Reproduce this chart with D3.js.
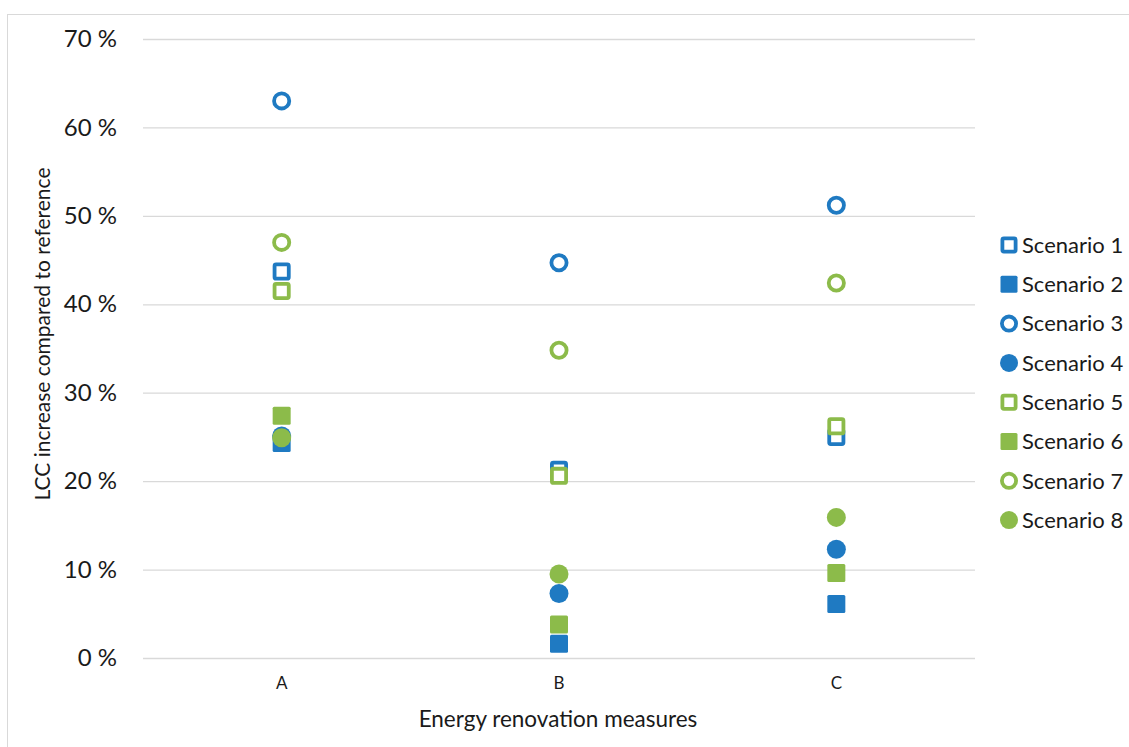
<!DOCTYPE html>
<html>
<head>
<meta charset="utf-8">
<script src="https://cdn.jsdelivr.net/npm/d3@7"></script>
<style>
  html, body { margin: 0; padding: 0; background: #fff; }
  svg { display: block; font-family: Lato, "Open Sans", sans-serif; }
</style>
</head>
<body>
<svg id="chart" width="1129" height="747"></svg>
<script>
// Energy renovation measures on the x axis
const categories = ["A", "B", "C"];

// LCC increase (%) per scenario, in category order A, B, C
const scenarioNames = ["Scenario 1", "Scenario 2", "Scenario 3", "Scenario 4",
                       "Scenario 5", "Scenario 6", "Scenario 7", "Scenario 8"];
const scenario1 = [43.7, 21.3, 25.0];
const scenario2 = [24.3, 1.6, 6.1];
const scenario3 = [63.0, 44.7, 51.2];
const scenario4 = [25.1, 7.3, 12.3];
const scenario5 = [41.5, 20.6, 26.2];
const scenario6 = [27.4, 3.8, 9.6];
const scenario7 = [47.0, 34.8, 42.4];
const scenario8 = [24.9, 9.5, 15.9];
const seriesValues = [scenario1, scenario2, scenario3, scenario4,
                      scenario5, scenario6, scenario7, scenario8];

// Marker style per scenario
const markerShape = ["square", "square", "circle", "circle", "square", "square", "circle", "circle"];
const markerHollow = [true, false, true, false, true, false, true, false];
const markerColor = ["blue", "blue", "blue", "blue", "green", "green", "green", "green"];

const yTicks = [0, 10, 20, 30, 40, 50, 60, 70];

const colors = { blue: "#1f7ac2", green: "#8cbb4a" };

const svg = d3.select("#chart");

// outer chart frame
svg.append("rect")
  .attr("x", 7.5).attr("y", 14.5)
  .attr("width", 1140).attr("height", 760)
  .attr("fill", "none").attr("stroke", "#d9d9d9").attr("stroke-width", 1);

const plot = { left: 143, right: 975, top: 39, bottom: 658 };

const x = d3.scaleBand().domain(categories).range([plot.left, plot.right]);
const y = d3.scaleLinear().domain([0, 70]).range([plot.bottom, plot.top]);

// horizontal gridlines
svg.append("g")
  .selectAll("line")
  .data(yTicks)
  .join("line")
  .attr("x1", plot.left).attr("x2", plot.right)
  .attr("y1", d => y(d) + 0.5).attr("y2", d => y(d) + 0.5)
  .attr("stroke", "#d9d9d9").attr("stroke-width", 1.3);

// y axis tick labels
const yAxis = d3.axisLeft(y).tickValues(yTicks).tickSize(0).tickPadding(0)
  .tickFormat(d => d + " %");
svg.append("g")
  .attr("transform", `translate(117,0)`)
  .call(yAxis)
  .call(g => g.select(".domain").remove())
  .call(g => g.selectAll("text")
    .attr("font-family", "Lato, sans-serif")
    .attr("font-size", 24).attr("fill", "#1a1a1a"));

// x axis category labels
const xAxis = d3.axisBottom(x).tickSize(0).tickPadding(0);
svg.append("g")
  .attr("transform", `translate(0,677)`)
  .call(xAxis)
  .call(g => g.select(".domain").remove())
  .call(g => g.selectAll("text")
    .attr("font-family", "Lato, sans-serif")
    .attr("font-size", 17).attr("fill", "#1a1a1a"));

// axis titles
svg.append("text")
  .attr("x", (plot.left + plot.right) / 2 - 1).attr("y", 727)
  .attr("text-anchor", "middle")
  .attr("font-size", 22.5).attr("fill", "#1a1a1a")
  .text("Energy renovation measures");

svg.append("text")
  .attr("transform", "translate(50,334) rotate(-90)")
  .attr("text-anchor", "middle")
  .attr("font-size", 21).attr("fill", "#1a1a1a")
  .text("LCC increase compared to reference");

// marker drawing helper
function drawMarker(sel, i, size) {
  const col = colors[markerColor[i]];
  const hollow = markerHollow[i];
  const sw = 3.8;
  if (markerShape[i] === "square") {
    const s = hollow ? size - sw : size;
    sel.append("rect")
      .attr("x", -s / 2).attr("y", -s / 2)
      .attr("width", s).attr("height", s)
      .attr("rx", 1.5)
      .attr("fill", hollow ? "#fff" : col)
      .attr("stroke", hollow ? col : "none")
      .attr("stroke-width", sw);
  } else {
    const r = hollow ? (size + 1 - sw) / 2 : (size + 1) / 2;
    sel.append("circle")
      .attr("r", r)
      .attr("fill", hollow ? "#fff" : col)
      .attr("stroke", hollow ? col : "none")
      .attr("stroke-width", sw);
  }
}

// series points, later scenarios drawn on top
const markerSize = 18;
seriesValues.forEach((vals, i) => {
  const g = svg.append("g").attr("class", "series-" + (i + 1));
  g.selectAll("g.pt")
    .data(vals.map((v, j) => ({ cat: categories[j], v })))
    .join("g")
    .attr("class", "pt")
    .attr("transform", d => `translate(${x(d.cat) + x.bandwidth() / 2},${y(d.v)})`)
    .each(function () { drawMarker(d3.select(this), i, markerSize); });
});

// legend
const legend = svg.append("g").attr("transform", "translate(1009,245)");
scenarioNames.forEach((name, i) => {
  const row = legend.append("g").attr("transform", `translate(0,${i * 39.3})`);
  drawMarker(row.append("g"), i, 17);
  row.append("text")
    .attr("x", 13).attr("y", 0).attr("dy", "0.35em")
    .attr("font-size", 22).attr("fill", "#1a1a1a")
    .text(name);
});
</script>
</body>
</html>
